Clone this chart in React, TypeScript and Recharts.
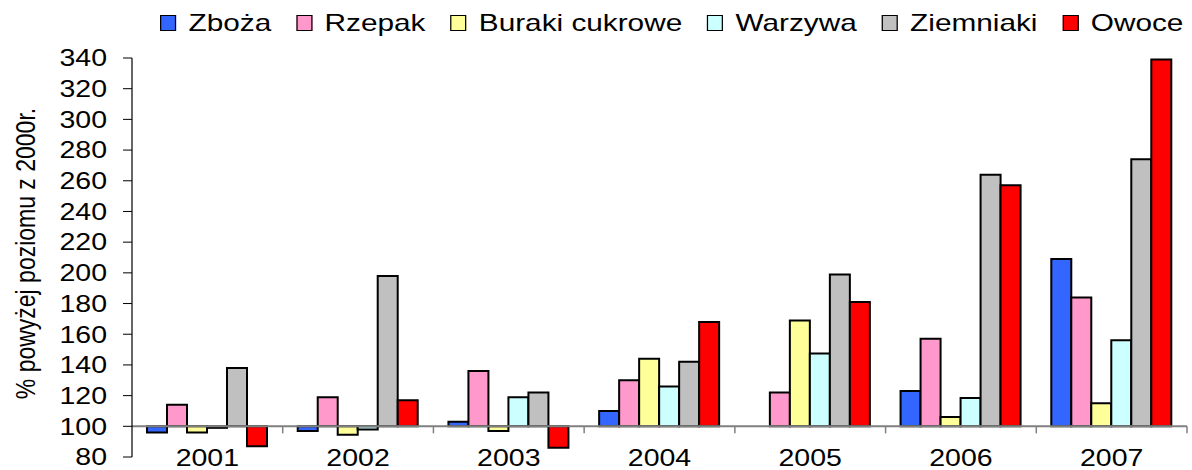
import React from 'react';
import { BarChart, Bar, XAxis, YAxis, Legend, ReferenceLine } from 'recharts';

const years = ['2001', '2002', '2003', '2004', '2005', '2006', '2007'];
const zboza = [96, 97, 103, 110, 100, 123, 209];
const rzepak = [114, 119, 136, 130, 122, 157, 184];
const buraki = [96, 94.5, 97, 144, 169, 106, 115];
const warzywa = [99, 98, 119, 126, 147.5, 118.5, 156];
const ziemniaki = [138, 198, 122, 142, 199, 264, 274];
const owoce = [87, 117, 86, 168, 181, 257, 339];
const yTicks = [80, 100, 120, 140, 160, 180, 200, 220, 240, 260, 280, 300, 320, 340];
const BASE = 100;

const series = [
  { key: 'zboza', name: 'Zboża', color: '#3366FF', values: zboza },
  { key: 'rzepak', name: 'Rzepak', color: '#FF99CC', values: rzepak },
  { key: 'buraki', name: 'Buraki cukrowe', color: '#FFFF99', values: buraki },
  { key: 'warzywa', name: 'Warzywa', color: '#CCFFFF', values: warzywa },
  { key: 'ziemniaki', name: 'Ziemniaki', color: '#C0C0C0', values: ziemniaki },
  { key: 'owoce', name: 'Owoce', color: '#FF0000', values: owoce },
];

const data = years.map((year, i) => {
  const row: any = { year, idx: i + 0.5 };
  series.forEach((s) => {
    row[s.key] = s.values[i];
  });
  return row;
});

// text in the original is stretched sideways
const STRETCH = 1.24;
const FONT = '"Liberation Sans", Arial, sans-serif';

const YTick = (props: any) => {
  const { x, y, payload } = props;
  return (
    <g transform={`translate(${x},${y})`}>
      <text transform={`scale(${STRETCH},1)`} textAnchor="end" dy="0.36em" fontSize={23} fill="#000" fontFamily={FONT}>
        {payload.value}
      </text>
    </g>
  );
};

const XTick = (props: any) => {
  const { x, y, payload } = props;
  return (
    <g transform={`translate(${x},${y + 9})`}>
      <text transform={`scale(${STRETCH},1)`} textAnchor="middle" fontSize={23} fill="#000" fontFamily={FONT}>
        {payload.value}
      </text>
    </g>
  );
};

const YLabel = (props: any) => {
  const { viewBox } = props;
  const cy = viewBox.y + viewBox.height / 2 - 4;
  return (
    <g transform={`translate(25,${cy}) rotate(-90) scale(1,${STRETCH})`}>
      <text textAnchor="middle" dominantBaseline="central" fontSize={23} fill="#000" fontFamily={FONT}>
        % powyżej poziomu z 2000r.
      </text>
    </g>
  );
};

const renderLegend = () => (
  <div
    style={{
      position: 'absolute',
      left: 160,
      top: 11,
      display: 'flex',
      alignItems: 'center',
      gap: 20,
      transform: `scaleX(${STRETCH})`,
      transformOrigin: '0 0',
      fontFamily: FONT,
      fontSize: 24,
      lineHeight: '24px',
      whiteSpace: 'nowrap',
      color: '#000',
    }}
  >
    {series.map((s) => (
      <div key={s.key} style={{ display: 'flex', alignItems: 'center', gap: 10 }}>
        <span
          style={{
            display: 'inline-block',
            width: 11,
            height: 14,
            background: s.color,
            border: '1.5px solid #000',
          }}
        />
        <span>{s.name}</span>
      </div>
    ))}
  </div>
);

export default function App() {
  return (
    <div style={{ position: 'absolute', left: 0, top: 0, background: '#fff' }}>
      <BarChart
        width={1192}
        height={470}
        data={data}
        margin={{ top: 28, right: 5, bottom: 0, left: 0 }}
        barSize={20}
        barGap={0}
      >
        <Legend
          verticalAlign="top"
          content={renderLegend}
          wrapperStyle={{ top: 0, left: 0, height: 30, width: 1192 }}
        />
        <XAxis
          xAxisId="cat"
          dataKey="year"
          axisLine={false}
          tickLine={false}
          tickSize={0}
          tickMargin={0}
          height={13}
          tick={<XTick />}
          interval={0}
        />
        <XAxis xAxisId="num" type="number" dataKey="idx" domain={[0, 7]} hide allowDataOverflow />
        <YAxis
          domain={[80, 340]}
          ticks={yTicks}
          interval={0}
          width={132}
          allowDataOverflow
          axisLine={{ stroke: '#000', strokeWidth: 1.2 }}
          tickLine={{ stroke: '#000', strokeWidth: 1 }}
          tickSize={9}
          tickMargin={16}
          tick={<YTick />}
          label={<YLabel />}
        />
        {series.map((s) => (
          <Bar
            key={s.key}
            xAxisId="cat"
            dataKey={(d: any) => [BASE, d[s.key]]}
            name={s.name}
            fill={s.color}
            stroke="#000"
            strokeWidth={2}
            isAnimationActive={false}
          />
        ))}
        <ReferenceLine xAxisId="cat" y={BASE} stroke="#808080" strokeWidth={2} />
        {years.map((y, i) => (
          <ReferenceLine
            key={y}
            xAxisId="num"
            segment={[
              { x: i + 1, y: BASE },
              { x: i + 1, y: BASE - 4.6 },
            ]}
            stroke="#808080"
            strokeWidth={1.5}
            ifOverflow="visible"
          />
        ))}
      </BarChart>
    </div>
  );
}
